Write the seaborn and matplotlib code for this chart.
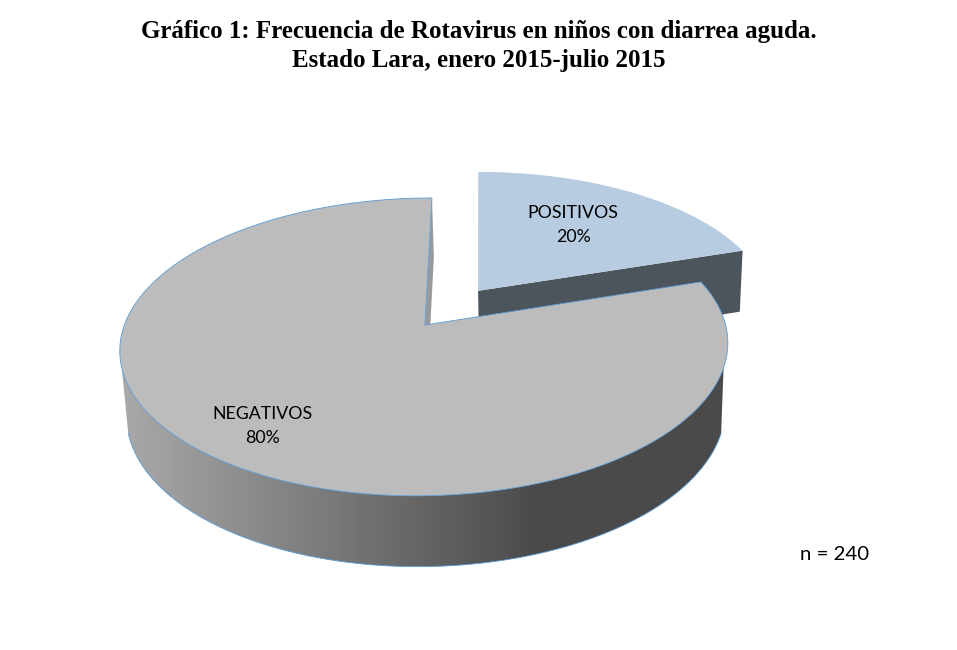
"""
Grafico 1: pastel 3D de frecuencia de Rotavirus, dibujado con pie + proyeccion en perspectiva.
"""

import numpy as np
import matplotlib
matplotlib.use("Agg")
import matplotlib.pyplot as plt
from matplotlib.patches import Polygon
from matplotlib.transforms import Affine2D
import seaborn as sns

categorias = ["POSITIVOS", "NEGATIVOS"]
valores = [20, 80]
separacion = [0.3, 0]
titulo = "Gráfico 1: Frecuencia de Rotavirus en niños con diarrea aguda.\nEstado Lara, enero 2015-julio 2015"
nota = "n = 240"

sns.set_style("white")


def proyectar(xy, plano="arriba"):
    # disco unitario -> pixeles de la imagen
    x, y = xy[:, 0], xy[:, 1]
    w = 1 + 0.147 * y
    px = (300.6 * x + 8 * y) / w
    py = 145.7 * y / w
    if plano == "arriba":
        return np.column_stack([425 + px, 325 - py])
    return np.column_stack([427 + 0.985 * px, 389 - 1.04 * py])


def contorno(wedge):
    path = wedge.get_path().transformed(Affine2D().scale(1000))
    return path.to_polygons()[0] / 1000


fig = plt.figure(figsize=(9.57, 6.5), dpi=100)
ax = fig.add_axes([0, 0, 1, 1])

wedges, _ = ax.pie(valores, explode=separacion, startangle=90, counterclock=False,
                   labeldistance=None)
pos = contorno(wedges[0])
neg = contorno(wedges[1])
centro_pos = np.array([wedges[0].center])
for w in wedges:
    w.remove()

ax.set_aspect("auto")
ax.set_xlim(0, 957)
ax.set_ylim(650, 0)
ax.axis("off")

AZUL = "#5B9BD5"
GRIS = "#BCBCBC"
CELESTE = "#B7CCE1"
OSCURO = "#4C545C"

# sector positivo: cara del corte y tapa
borde_der = pos[np.argmax(pos[:, 0])][None, :]
cara = np.vstack([proyectar(centro_pos), proyectar(borde_der),
                  proyectar(borde_der, "abajo"), proyectar(centro_pos, "abajo")])
ax.add_patch(Polygon(cara, color=OSCURO, lw=0, zorder=1))
ax.add_patch(Polygon(proyectar(pos), color=CELESTE, lw=0, zorder=2))

# sector negativo: pared frontal con degradado
radio = np.hypot(neg[:, 0], neg[:, 1])
arco = neg[(radio > 0.99) & (neg[:, 1] < -0.27)]
arco = arco[np.argsort(arco[:, 0])]
pared = np.vstack([proyectar(arco), proyectar(arco, "abajo")[::-1]])
clip = Polygon(pared, transform=ax.transData, fc="none", ec="none")
ax.add_patch(clip)
degradado = sns.blend_palette(["#A8A8A8", "#4A4A4A"], as_cmap=True)
columnas = np.linspace(119, 730, 600)[None, :]
img = ax.imshow(columnas, cmap=degradado, vmin=125, vmax=540, aspect="auto",
                extent=(119, 730, 600, 300), zorder=3)
img.set_clip_path(clip)
ax.set_xlim(0, 957)
ax.set_ylim(650, 0)
ax.plot(*pared[len(arco):].T, color=AZUL, lw=0.6, zorder=4)

# cara interior a las 12, apenas visible junto a la tapa
doce = np.array([[0.0, 1.0]])
cero = np.array([[0.0, 0.0]])
cara_doce = np.vstack([proyectar(cero), proyectar(doce),
                       proyectar(doce, "abajo"), proyectar(cero, "abajo")])
ax.add_patch(Polygon(cara_doce, color="#9A9A9A", lw=0, zorder=3))

ax.add_patch(Polygon(proyectar(neg), fc=GRIS, ec=AZUL, lw=0.6, zorder=5))

# textos
ax.text(479, 46, titulo, family="Liberation Serif", weight="bold", fontsize=18,
        ha="center", va="center", linespacing=1.36, color="black")
etiquetas_xy = [(573, 225), (262, 426)]
for cat, val, (tx, ty) in zip(categorias, valores, etiquetas_xy):
    ax.text(tx, ty, f"{cat}\n{val}%", family="Lato", fontsize=12.8, ha="center",
            va="center", linespacing=1.62, color="black", zorder=6)
ax.text(835, 555, nota, family="Lato", fontsize=14.7, ha="center", va="center", color="black")

fig.savefig("out.png", dpi=100, facecolor="white")
plt.close()
